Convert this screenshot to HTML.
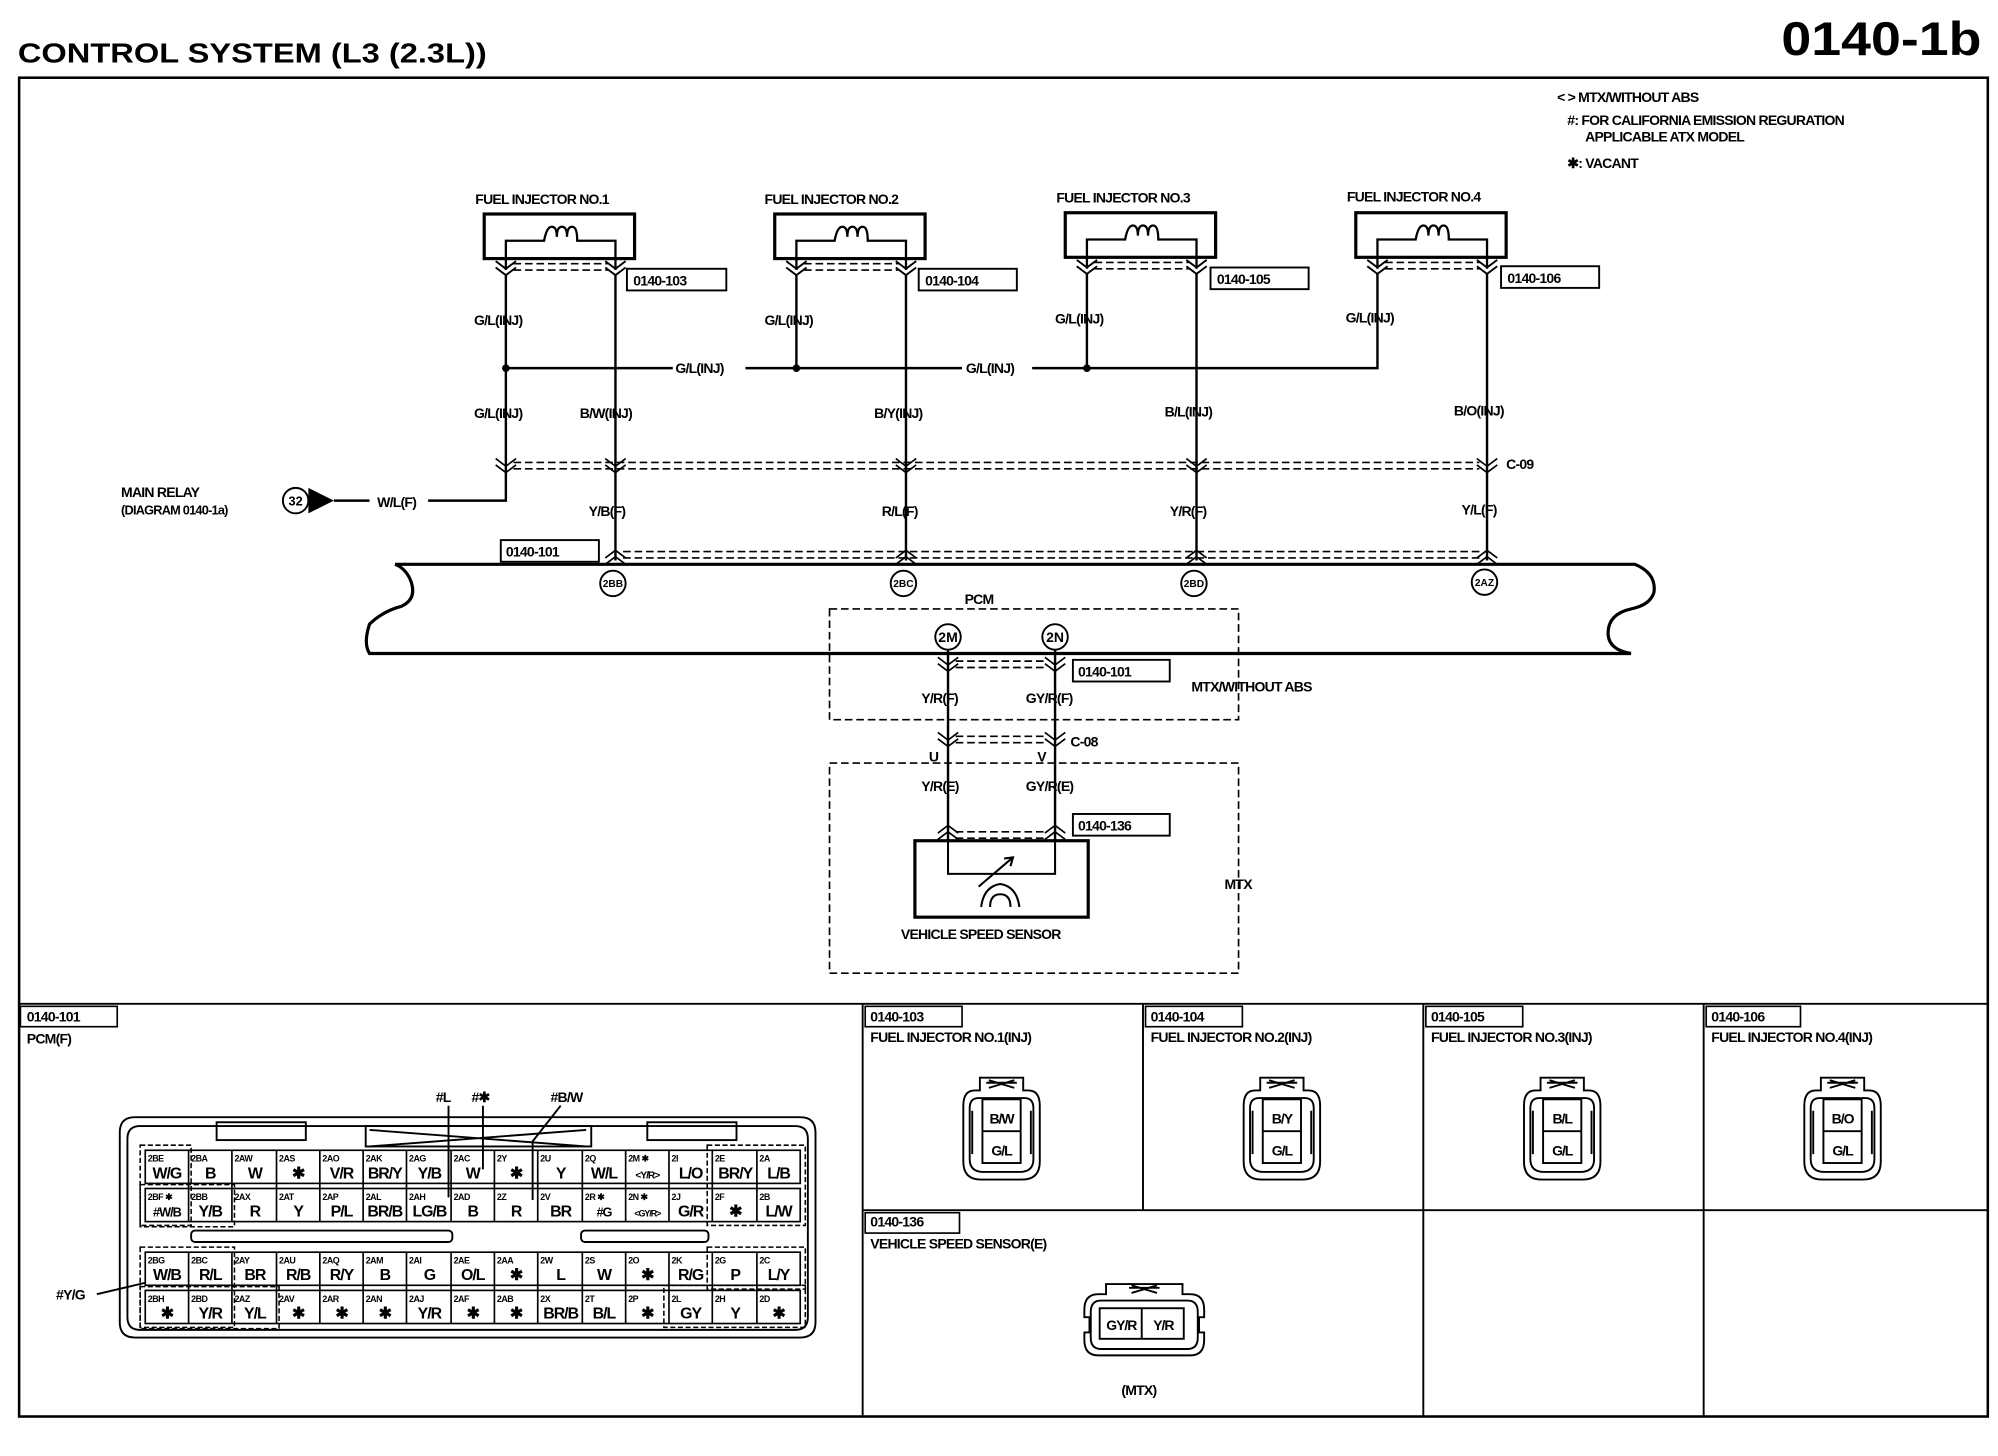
<!DOCTYPE html>
<html><head><meta charset="utf-8"><style>
html,body{margin:0;padding:0;background:#fff;}
svg{display:block;}
text{font-family:"Liberation Sans",Arial,sans-serif;font-weight:bold;fill:#000;}
.s{font-size:11px;letter-spacing:-0.6px;}
.n{font-size:7px;letter-spacing:-0.4px;}
.w{font-size:12.5px;letter-spacing:-0.8px;text-anchor:middle;}
.c{text-anchor:middle;}
</style></head><body>
<svg width="1998" height="1456" viewBox="0 0 1568 1143" preserveAspectRatio="none" xmlns="http://www.w3.org/2000/svg">
<rect x="0" y="0" width="1568" height="1143" fill="#fff"/>
<text x="14" y="49" style="font-size:22px" textLength="368" lengthAdjust="spacingAndGlyphs">CONTROL SYSTEM (L3 (2.3L))</text>
<text x="1398" y="43" style="font-size:37px" textLength="157" lengthAdjust="spacingAndGlyphs">0140-1b</text>
<g fill="none" stroke="#000">
<rect x="15" y="61" width="1545" height="1051" stroke-width="2"/>
<line x1="15" y1="788" x2="1560" y2="788" stroke-width="1.5"/>
<line x1="677" y1="788" x2="677" y2="1112" stroke-width="1.5"/>
<line x1="897" y1="788" x2="897" y2="950" stroke-width="1.5"/>
<line x1="1117" y1="788" x2="1117" y2="1112" stroke-width="1.5"/>
<line x1="1337" y1="788" x2="1337" y2="1112" stroke-width="1.5"/>
<line x1="677" y1="950" x2="1560" y2="950" stroke-width="1.5"/>
</g>
<text class="s" x="1222" y="80">&lt; &gt; MTX/WITHOUT ABS</text>
<text class="s" x="1230" y="98"> #: FOR CALIFORNIA EMISSION REGURATION</text>
<text class="s" x="1244" y="111">APPLICABLE ATX MODEL</text>
<text class="s" x="1230" y="132">✱: VACANT</text>

<!-- injectors -->
<g id="inj">
<rect x="380" y="168" width="118" height="35" fill="none" stroke="#000" stroke-width="2.5"/>
<path d="M397 212 V189 H427 Q429 178 433 178 Q437 178 437 186 Q437 178 441 178 Q445 178 445 186 Q445 178 449 178 Q453 178 453 189 H483 V212" fill="none" stroke="#000" stroke-width="1.8"/>
<path d="M389 205 L397 211 L405 205 M389 210 L397 216 L405 210 M475 205 L483 211 L491 205 M475 210 L483 216 L491 210" fill="none" stroke="#000" stroke-width="1.5"/>
<line x1="403" y1="207" x2="477" y2="207" stroke="#000" stroke-dasharray="6,3" stroke-width="1.3"/>
<line x1="403" y1="212" x2="477" y2="212" stroke="#000" stroke-dasharray="6,3" stroke-width="1.3"/>
</g>
<use href="#inj" x="228" y="0"/>
<use href="#inj" x="456" y="-1"/>
<use href="#inj" x="684" y="-1"/>
<text class="s" x="373" y="160">FUEL INJECTOR NO.1</text>
<text class="s" x="600" y="160">FUEL INJECTOR NO.2</text>
<text class="s" x="829" y="159">FUEL INJECTOR NO.3</text>
<text class="s" x="1057" y="158">FUEL INJECTOR NO.4</text>
<g fill="none" stroke="#000" stroke-width="1.5">
<rect x="492" y="211" width="78" height="17"/>
<rect x="721" y="211" width="77" height="17"/>
<rect x="950" y="210" width="77" height="17"/>
<rect x="1178" y="209" width="77" height="17"/>
</g>
<text class="s" x="497" y="224">0140-103</text>
<text class="s" x="726" y="224">0140-104</text>
<text class="s" x="955" y="223">0140-105</text>
<text class="s" x="1183" y="222">0140-106</text>

<!-- wires -->
<g fill="none" stroke="#000" stroke-width="1.9">
<path d="M397 216 V393 H262"/>
<path d="M625 216 V289 M853 215 V289 M1081 215 V289 H810 M755 289 H585 M530 289 H397"/>
<line x1="483" y1="216" x2="483" y2="440"/>
<line x1="711" y1="216" x2="711" y2="440"/>
<line x1="939" y1="215" x2="939" y2="440"/>
<line x1="1167" y1="215" x2="1167" y2="440"/>
</g>
<circle cx="397" cy="289" r="3"/><circle cx="625" cy="289" r="3"/><circle cx="853" cy="289" r="3"/>
<g fill="#fff"><rect x="528" y="282" width="52" height="13"/><rect x="757" y="282" width="52" height="13"/></g>
<text class="s" x="530" y="293">G/L(INJ)</text>
<text class="s" x="758" y="293">G/L(INJ)</text>
<text class="s" x="372" y="255">G/L(INJ)</text>
<text class="s" x="600" y="255">G/L(INJ)</text>
<text class="s" x="828" y="254">G/L(INJ)</text>
<text class="s" x="1056" y="253">G/L(INJ)</text>
<text class="s" x="372" y="328">G/L(INJ)</text>
<text class="s" x="455" y="328">B/W(INJ)</text>
<text class="s" x="686" y="328">B/Y(INJ)</text>
<text class="s" x="914" y="327">B/L(INJ)</text>
<text class="s" x="1141" y="326">B/O(INJ)</text>
<!-- C-09 -->
<g fill="none" stroke="#000" stroke-width="1.3">
<line x1="403" y1="363" x2="1161" y2="363" stroke-dasharray="6,3"/>
<line x1="403" y1="368" x2="1161" y2="368" stroke-dasharray="6,3"/>
<path d="M389 360 L397 366 L405 360 M389 365 L397 371 L405 365 M475 360 L483 366 L491 360 M475 365 L483 371 L491 365 M703 360 L711 366 L719 360 M703 365 L711 371 L719 365 M931 360 L939 366 L947 360 M931 365 L939 371 L947 365 M1159 360 L1167 366 L1175 360 M1159 365 L1167 371 L1175 365"/>
<line x1="489" y1="433" x2="1161" y2="433" stroke-dasharray="6,3"/>
<line x1="489" y1="438" x2="1161" y2="438" stroke-dasharray="6,3"/>
<path d="M475 438 L483 432 L491 438 M475 443 L483 437 L491 443 M703 438 L711 432 L719 438 M703 443 L711 437 L719 443 M931 438 L939 432 L947 438 M931 443 L939 437 L947 443 M1159 438 L1167 432 L1175 438 M1159 443 L1167 437 L1175 443"/>
</g>
<text class="s" x="1182" y="368">C-09</text>
<text class="s" x="462" y="405">Y/B(F)</text>
<text class="s" x="692" y="405">R/L(F)</text>
<text class="s" x="918" y="405">Y/R(F)</text>
<text class="s" x="1147" y="404">Y/L(F)</text>
<rect x="393" y="424" width="77" height="17" fill="none" stroke="#000" stroke-width="1.5"/>
<text class="s" x="397" y="437">0140-101</text>
<!-- main relay -->
<text class="s" x="95" y="390">MAIN RELAY</text>
<text class="s" x="95" y="404" style="font-size:10px">(DIAGRAM 0140-1a)</text>
<circle cx="232" cy="393" r="10" fill="#fff" stroke="#000" stroke-width="1.5"/>
<text class="c" x="232" y="397" style="font-size:10px">32</text>
<path d="M242 383 L262 393 L242 403 Z"/>
<rect x="290" y="387" width="46" height="13" fill="#fff"/>
<text class="s" x="296" y="398">W/L(F)</text>

<!-- PCM -->
<g fill="none" stroke="#000" stroke-width="2.5">
<path d="M310 443 H1283 Q1300 450 1298 465 Q1295 475 1280 478 Q1262 482 1262 497 Q1262 510 1280 513 H290 Q285 505 290 490 Q300 480 315 476 Q328 470 322 455 Q318 446 310 443"/>
</g>
<g fill="#fff" stroke="#000" stroke-width="1.5">
<circle cx="481" cy="458" r="10"/><circle cx="709" cy="458" r="10"/><circle cx="937" cy="458" r="10"/><circle cx="1165" cy="457" r="10"/>
<circle cx="744" cy="500" r="10"/><circle cx="828" cy="500" r="10"/>
</g>
<text class="c" x="481" y="461" style="font-size:8px">2BB</text>
<text class="c" x="709" y="461" style="font-size:8px">2BC</text>
<text class="c" x="937" y="461" style="font-size:8px">2BD</text>
<text class="c" x="1165" y="460" style="font-size:8px">2AZ</text>
<text class="c" x="744" y="504" style="font-size:11px">2M</text>
<text class="c" x="828" y="504" style="font-size:11px">2N</text>
<text class="s" x="757" y="474">PCM</text>
<g fill="none" stroke="#000" stroke-width="1.3" stroke-dasharray="6,3">
<rect x="651" y="478" width="321" height="87"/>
<rect x="651" y="599" width="321" height="165"/>
</g>
<g fill="none" stroke="#000" stroke-width="1.9">
<line x1="744" y1="510" x2="744" y2="660"/>
<line x1="828" y1="510" x2="828" y2="660"/>
</g>
<g fill="none" stroke="#000" stroke-width="1.5">
<rect x="842" y="518" width="76" height="17"/>
<rect x="842" y="639" width="76" height="17"/>
</g>
<g fill="none" stroke="#000" stroke-width="1.3">
<line x1="750" y1="519" x2="822" y2="519" stroke-dasharray="6,3"/><line x1="750" y1="524" x2="822" y2="524" stroke-dasharray="6,3"/>
<line x1="750" y1="578" x2="822" y2="578" stroke-dasharray="6,3"/><line x1="750" y1="583" x2="822" y2="583" stroke-dasharray="6,3"/>
<line x1="750" y1="653" x2="822" y2="653" stroke-dasharray="6,3"/><line x1="750" y1="658" x2="822" y2="658" stroke-dasharray="6,3"/>
<path d="M736 516 L744 522 L752 516 M736 521 L744 527 L752 521 M820 516 L828 522 L836 516 M820 521 L828 527 L836 521"/>
<path d="M736 575 L744 581 L752 575 M736 580 L744 586 L752 580 M820 575 L828 581 L836 575 M820 580 L828 586 L836 580"/>
<path d="M736 654 L744 648 L752 654 M736 659 L744 653 L752 659 M820 654 L828 648 L836 654 M820 659 L828 653 L836 659"/>
</g>
<text class="s" x="846" y="531">0140-101</text>
<text class="s" x="846" y="652">0140-136</text>
<text class="s" x="723" y="552">Y/R(F)</text>
<text class="s" x="805" y="552">GY/R(F)</text>
<text class="s" x="935" y="543">MTX/WITHOUT ABS</text>
<text class="s" x="840" y="586">C-08</text>
<text class="s" x="729" y="598">U</text>
<text class="s" x="814" y="598">V</text>
<text class="s" x="723" y="621">Y/R(E)</text>
<text class="s" x="805" y="621">GY/R(E)</text>
<rect x="718" y="660" width="136" height="60" fill="none" stroke="#000" stroke-width="2.5"/>
<path d="M744 660 V686 H828 V660 M768 696 L795 673 M788 674 L795 673 L793 680 M770 712 Q772 696 785 694 Q798 696 800 712 M777 712 Q777 702 785 702 Q793 702 793 712" fill="none" stroke="#000" stroke-width="1.6"/>
<text class="s" x="707" y="737">VEHICLE SPEED SENSOR</text>
<text class="s" x="961" y="698">MTX</text>

<!-- bottom panels -->
<g fill="none" stroke="#000" stroke-width="1.3">
<rect x="16" y="790" width="76" height="16"/>
<rect x="679" y="790" width="76" height="16"/>
<rect x="899" y="790" width="76" height="16"/>
<rect x="1119" y="790" width="76" height="16"/>
<rect x="1339" y="790" width="74" height="16"/>
<rect x="679" y="952" width="74" height="16"/>
</g>
<text class="s" x="21" y="802">0140-101</text>
<text class="s" x="21" y="819">PCM(F)</text>
<text class="s" x="683" y="802">0140-103</text>
<text class="s" x="683" y="818">FUEL INJECTOR NO.1(INJ)</text>
<text class="s" x="903" y="802">0140-104</text>
<text class="s" x="903" y="818">FUEL INJECTOR NO.2(INJ)</text>
<text class="s" x="1123" y="802">0140-105</text>
<text class="s" x="1123" y="818">FUEL INJECTOR NO.3(INJ)</text>
<text class="s" x="1343" y="802">0140-106</text>
<text class="s" x="1343" y="818">FUEL INJECTOR NO.4(INJ)</text>
<text class="s" x="683" y="963">0140-136</text>
<text class="s" x="683" y="980">VEHICLE SPEED SENSOR(E)</text>
<text class="s" x="880" y="1095">(MTX)</text>

<g id="ic" fill="none" stroke="#000" stroke-width="1.5">
<path d="M765 856 Q756 856 756 868 V912 Q756 926 770 926 H802 Q816 926 816 912 V868 Q816 856 807 856 H803 V846 H769 V856 Z"/>
<path d="M768 862 Q761 862 761 870 V910 Q761 920 772 920 H800 Q811 920 811 910 V870 Q811 862 804 862 Z"/>
<rect x="771" y="863" width="30" height="50"/>
<line x1="771" y1="888" x2="801" y2="888"/>
<path d="M774 850 H798 M776 848 L796 854 M776 854 L796 848"/>
<path d="M763 872 V906 M809 872 V906"/>
</g>
<use href="#ic" x="220" y="0"/>
<use href="#ic" x="440" y="0"/>
<use href="#ic" x="660" y="0"/>
<text class="w" x="786" y="882" style="font-size:11px">B/W</text><text class="w" x="786" y="907" style="font-size:11px">G/L</text>
<text class="w" x="1006" y="882" style="font-size:11px">B/Y</text><text class="w" x="1006" y="907" style="font-size:11px">G/L</text>
<text class="w" x="1226" y="882" style="font-size:11px">B/L</text><text class="w" x="1226" y="907" style="font-size:11px">G/L</text>
<text class="w" x="1446" y="882" style="font-size:11px">B/O</text><text class="w" x="1446" y="907" style="font-size:11px">G/L</text>

<!-- VSS connector -->
<g fill="none" stroke="#000" stroke-width="1.5">
<path d="M868 1016 V1008 H928 V1016 H934 Q945 1016 945 1028 V1034 H941 V1046 H945 V1052 Q945 1064 934 1064 H862 Q851 1064 851 1052 V1046 H855 V1034 H851 V1028 Q851 1016 862 1016 Z"/>
<path d="M864 1021 H932 Q940 1021 940 1030 V1050 Q940 1059 932 1059 H864 Q856 1059 856 1050 V1030 Q856 1021 864 1021 Z"/>
<rect x="863" y="1027" width="66" height="24"/>
<line x1="896" y1="1027" x2="896" y2="1051"/>
<path d="M886 1011 H910 M888 1009 L908 1015 M888 1015 L908 1009"/>
</g>
<text class="w" x="880" y="1044" style="font-size:11px">GY/R</text>
<text class="w" x="913" y="1044" style="font-size:11px">Y/R</text>

<!-- PCM connector -->
<g fill="none" stroke="#000" stroke-width="1.5">
<path d="M106 877 H628 Q640 877 640 889 V1038 Q640 1050 628 1050 H106 Q94 1050 94 1038 V889 Q94 877 106 877 Z"/>
<path d="M110 884 H624 Q634 884 634 894 V1034 Q634 1044 624 1044 H110 Q100 1044 100 1034 V894 Q100 884 110 884 Z"/>
<rect x="170" y="881" width="70" height="14"/>
<rect x="508" y="881" width="70" height="14"/>
<rect x="287" y="884" width="177" height="16"/>
<path d="M290 887 L460 900 M290 900 L460 887"/>
<rect x="150" y="966" width="205" height="9" rx="3"/>
<rect x="456" y="966" width="100" height="9" rx="3"/>
<path d="M352 868 V940 M379 868 V918 M440 868 L418 896 V942"/>
<path d="M76 1016 L114 1007"/>
</g>
<text class="s" x="342" y="865">#L</text>
<text class="s" x="370" y="865">#✱</text>
<text class="s" x="432" y="865">#B/W</text>
<text class="s" x="44" y="1020">#Y/G</text>

<g fill="none" stroke="#000" stroke-width="1.3">
<rect x="114" y="903" width="514" height="26"/>
<rect x="114" y="933" width="514" height="26"/>
<rect x="114" y="983" width="514" height="26"/>
<rect x="114" y="1013" width="514" height="26"/>
<path d="M148 903 V959 M182 903 V959 M217 903 V959 M251 903 V959 M285 903 V959 M319 903 V959 M354 903 V959 M388 903 V959 M422 903 V959 M457 903 V959 M491 903 V959 M525 903 V959 M559 903 V959 M594 903 V959"/>
<path d="M148 983 V1039 M182 983 V1039 M217 983 V1039 M251 983 V1039 M285 983 V1039 M319 983 V1039 M354 983 V1039 M388 983 V1039 M422 983 V1039 M457 983 V1039 M491 983 V1039 M525 983 V1039 M559 983 V1039 M594 983 V1039"/>
</g>
<g fill="none" stroke="#000" stroke-width="1.2" stroke-dasharray="4,2">
<rect x="110" y="899" width="40" height="63"/>
<rect x="110" y="930" width="74" height="33"/>
<rect x="555" y="899" width="77" height="63"/>
<rect x="110" y="979" width="74" height="63"/>
<rect x="110" y="1010" width="109" height="33"/>
<rect x="555" y="979" width="77" height="33"/>
<rect x="521" y="1009" width="111" height="33"/>
</g>

<g>
<text class="n" x="116" y="912">2BE</text><text class="w" x="131" y="925">W/G</text>
<text class="n" x="150" y="912">2BA</text><text class="w" x="165" y="925">B</text>
<text class="n" x="184" y="912">2AW</text><text class="w" x="200" y="925">W</text>
<text class="n" x="219" y="912">2AS</text><text class="w" x="234" y="925">✱</text>
<text class="n" x="253" y="912">2AO</text><text class="w" x="268" y="925">V/R</text>
<text class="n" x="287" y="912">2AK</text><text class="w" x="302" y="925">BR/Y</text>
<text class="n" x="321" y="912">2AG</text><text class="w" x="337" y="925">Y/B</text>
<text class="n" x="356" y="912">2AC</text><text class="w" x="371" y="925">W</text>
<text class="n" x="390" y="912">2Y</text><text class="w" x="405" y="925">✱</text>
<text class="n" x="424" y="912">2U</text><text class="w" x="440" y="925">Y</text>
<text class="n" x="459" y="912">2Q</text><text class="w" x="474" y="925">W/L</text>
<text class="n" x="493" y="912">2M ✱</text><text class="w" x="508" y="925" style="font-size:8px">&lt;Y/R&gt;</text>
<text class="n" x="527" y="912">2I</text><text class="w" x="542" y="925">L/O</text>
<text class="n" x="561" y="912">2E</text><text class="w" x="577" y="925">BR/Y</text>
<text class="n" x="596" y="912">2A</text><text class="w" x="611" y="925">L/B</text>
</g>
<g>
<text class="n" x="116" y="942">2BF ✱</text><text class="w" x="131" y="955" style="font-size:10px">#W/B</text>
<text class="n" x="150" y="942">2BB</text><text class="w" x="165" y="955">Y/B</text>
<text class="n" x="184" y="942">2AX</text><text class="w" x="200" y="955">R</text>
<text class="n" x="219" y="942">2AT</text><text class="w" x="234" y="955">Y</text>
<text class="n" x="253" y="942">2AP</text><text class="w" x="268" y="955">P/L</text>
<text class="n" x="287" y="942">2AL</text><text class="w" x="302" y="955">BR/B</text>
<text class="n" x="321" y="942">2AH</text><text class="w" x="337" y="955">LG/B</text>
<text class="n" x="356" y="942">2AD</text><text class="w" x="371" y="955">B</text>
<text class="n" x="390" y="942">2Z</text><text class="w" x="405" y="955">R</text>
<text class="n" x="424" y="942">2V</text><text class="w" x="440" y="955">BR</text>
<text class="n" x="459" y="942">2R ✱</text><text class="w" x="474" y="955" style="font-size:10px">#G</text>
<text class="n" x="493" y="942">2N ✱</text><text class="w" x="508" y="955" style="font-size:7px">&lt;GY/R&gt;</text>
<text class="n" x="527" y="942">2J</text><text class="w" x="542" y="955">G/R</text>
<text class="n" x="561" y="942">2F</text><text class="w" x="577" y="955">✱</text>
<text class="n" x="596" y="942">2B</text><text class="w" x="611" y="955">L/W</text>
</g>
<g>
<text class="n" x="116" y="992">2BG</text><text class="w" x="131" y="1005">W/B</text>
<text class="n" x="150" y="992">2BC</text><text class="w" x="165" y="1005">R/L</text>
<text class="n" x="184" y="992">2AY</text><text class="w" x="200" y="1005">BR</text>
<text class="n" x="219" y="992">2AU</text><text class="w" x="234" y="1005">R/B</text>
<text class="n" x="253" y="992">2AQ</text><text class="w" x="268" y="1005">R/Y</text>
<text class="n" x="287" y="992">2AM</text><text class="w" x="302" y="1005">B</text>
<text class="n" x="321" y="992">2AI</text><text class="w" x="337" y="1005">G</text>
<text class="n" x="356" y="992">2AE</text><text class="w" x="371" y="1005">O/L</text>
<text class="n" x="390" y="992">2AA</text><text class="w" x="405" y="1005">✱</text>
<text class="n" x="424" y="992">2W</text><text class="w" x="440" y="1005">L</text>
<text class="n" x="459" y="992">2S</text><text class="w" x="474" y="1005">W</text>
<text class="n" x="493" y="992">2O</text><text class="w" x="508" y="1005">✱</text>
<text class="n" x="527" y="992">2K</text><text class="w" x="542" y="1005">R/G</text>
<text class="n" x="561" y="992">2G</text><text class="w" x="577" y="1005">P</text>
<text class="n" x="596" y="992">2C</text><text class="w" x="611" y="1005">L/Y</text>
</g>
<g>
<text class="n" x="116" y="1022">2BH</text><text class="w" x="131" y="1035">✱</text>
<text class="n" x="150" y="1022">2BD</text><text class="w" x="165" y="1035">Y/R</text>
<text class="n" x="184" y="1022">2AZ</text><text class="w" x="200" y="1035">Y/L</text>
<text class="n" x="219" y="1022">2AV</text><text class="w" x="234" y="1035">✱</text>
<text class="n" x="253" y="1022">2AR</text><text class="w" x="268" y="1035">✱</text>
<text class="n" x="287" y="1022">2AN</text><text class="w" x="302" y="1035">✱</text>
<text class="n" x="321" y="1022">2AJ</text><text class="w" x="337" y="1035">Y/R</text>
<text class="n" x="356" y="1022">2AF</text><text class="w" x="371" y="1035">✱</text>
<text class="n" x="390" y="1022">2AB</text><text class="w" x="405" y="1035">✱</text>
<text class="n" x="424" y="1022">2X</text><text class="w" x="440" y="1035">BR/B</text>
<text class="n" x="459" y="1022">2T</text><text class="w" x="474" y="1035">B/L</text>
<text class="n" x="493" y="1022">2P</text><text class="w" x="508" y="1035">✱</text>
<text class="n" x="527" y="1022">2L</text><text class="w" x="542" y="1035">GY</text>
<text class="n" x="561" y="1022">2H</text><text class="w" x="577" y="1035">Y</text>
<text class="n" x="596" y="1022">2D</text><text class="w" x="611" y="1035">✱</text>
</g>
</svg>
</body></html>
